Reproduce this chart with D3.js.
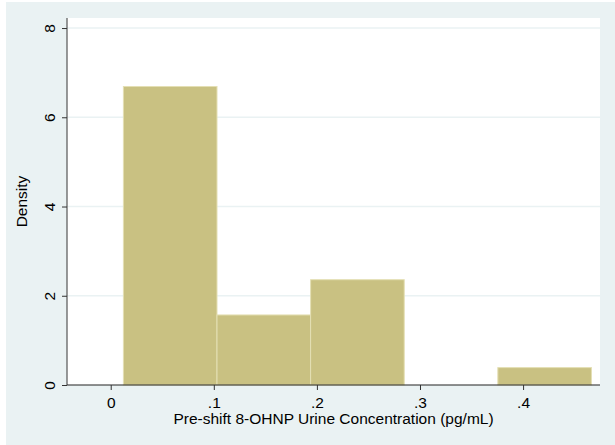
<!DOCTYPE html>
<html>
<head>
<meta charset="utf-8">
<script src="https://cdn.jsdelivr.net/npm/d3@7"></script>
<style>
  body { margin: 0; background: #fff; }
  text { font-family: "Liberation Sans", Arial, sans-serif; fill: #000; }
</style>
</head>
<body>
<div id="chart"></div>
<script>
(function(){

  // histogram bins (pg/mL) and densities
  const binStart = [0.0123, 0.1031, 0.1939, 0.2847, 0.3755]
  const binEnd   = [0.1031, 0.1939, 0.2847, 0.3755, 0.4663]
  const density  = [6.69, 1.57, 2.36, 0, 0.39]

  const xTicks = [0, 0.1, 0.2, 0.3, 0.4]
  const xTickLabels = ['0', '.1', '.2', '.3', '.4']
  const yTicks = [0, 2, 4, 6, 8]

  const W = 615, H = 445
  const left = 67, right = 600, top = 18, bottom = 385
  const fs = 15.5

  const svg = d3.select('#chart').append('svg')
      .attr('width', W).attr('height', H)

  // outer graph region
  svg.append('rect').attr('x', 6).attr('y', 2)
      .attr('width', W - 6).attr('height', H - 2)
      .attr('fill', '#eaf2f3')

  // plot region
  svg.append('rect').attr('x', left).attr('y', top)
      .attr('width', right - left).attr('height', bottom - top)
      .attr('fill', '#fff')

  const x = d3.scaleLinear().domain([-0.0424, 0.4746]).range([left, right])
  const y = d3.scaleLinear().domain([0, 8]).range([bottom, bottom - 8 * 44.62])

  // gridlines
  svg.append('g').selectAll('line').data(yTicks.filter(d => d > 0))
    .enter().append('line')
      .attr('x1', left).attr('x2', right)
      .attr('y1', d => y(d)).attr('y2', d => y(d))
      .attr('stroke', '#eaf2f3').attr('stroke-width', 1.5)

  // bars
  const bins = density.map((d, i) => ({ x0: binStart[i], x1: binEnd[i], d: d }))
  svg.append('g').selectAll('rect').data(bins.filter(b => b.d > 0))
    .enter().append('rect')
      .attr('x', b => x(b.x0))
      .attr('width', b => x(b.x1) - x(b.x0))
      .attr('y', b => y(b.d))
      .attr('height', b => y(0) - y(b.d))
      .attr('fill', '#c9c182')
      .attr('stroke', '#e4dfb4').attr('stroke-width', 1)

  // y axis
  const yAxis = svg.append('g').attr('transform', `translate(${left},0)`)
      .call(d3.axisLeft(y).tickValues(yTicks).tickSize(5).tickFormat(d3.format('d')))
  yAxis.select('.domain').attr('stroke', '#555').attr('stroke-width', 1.2)
      .attr('d', `M0,${top}V${bottom}`)
  yAxis.selectAll('.tick line').attr('stroke', '#333')
  yAxis.selectAll('.tick text')
      .attr('font-size', fs)
      .attr('transform', 'rotate(-90)')
      .attr('x', 0).attr('y', -12)
      .attr('dy', 0)
      .attr('text-anchor', 'middle')

  // x axis
  const xAxis = svg.append('g').attr('transform', `translate(0,${bottom})`)
      .call(d3.axisBottom(x).tickValues(xTicks).tickSize(5)
        .tickFormat((d, i) => xTickLabels[i]))
  xAxis.select('.domain').attr('stroke', '#222').attr('stroke-width', 1.2)
      .attr('d', `M${left},0H${right}`)
  xAxis.selectAll('.tick line').attr('stroke', '#333')
  xAxis.selectAll('.tick text').attr('font-size', fs).attr('y', 23).attr('dy', 0)

  // axis titles
  svg.append('text')
      .attr('x', (left + right) / 2).attr('y', 424)
      .attr('text-anchor', 'middle').attr('font-size', fs)
      .text('Pre-shift 8-OHNP Urine Concentration (pg/mL)')

  svg.append('text')
      .attr('transform', `translate(27,${(top + bottom) / 2}) rotate(-90)`)
      .attr('text-anchor', 'middle').attr('font-size', fs)
      .text('Density')

})()
</script>
</body>
</html>
